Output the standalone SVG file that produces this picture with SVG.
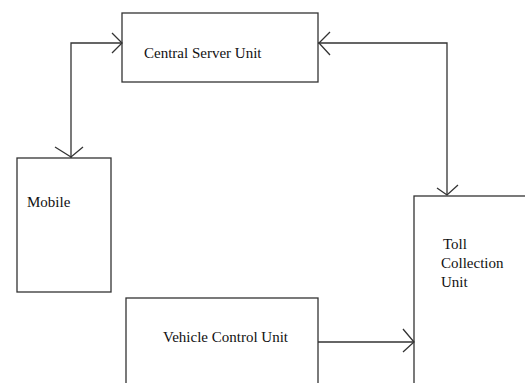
<svg xmlns="http://www.w3.org/2000/svg" width="525" height="383" viewBox="0 0 525 383">
<style>
.box{fill:#fff;stroke:#333;stroke-width:1.3}
.t{font-family:"Liberation Serif","Times New Roman",serif;font-size:15px;fill:#111}
.c{fill:none;stroke:#333;stroke-width:1.3}
</style>
<rect width="525" height="383" fill="#fff"/>
<g id="central"><rect class="box" x="122" y="13" width="196" height="69"/><text class="t" x="144" y="58">Central Server Unit</text></g>
<g id="mobile"><rect class="box" x="17" y="158" width="94" height="134"/><text class="t" x="27" y="207">Mobile</text></g>
<g id="vehicle"><rect class="box" x="126" y="298" width="192" height="100"/><text class="t" x="163" y="342">Vehicle Control Unit</text></g>
<g id="toll"><rect class="box" x="414" y="196" width="130" height="200"/><text class="t" x="443" y="249">Toll</text><text class="t" x="441" y="268">Collection</text><text class="t" x="441" y="287">Unit</text></g>
<g id="connectors">
<path class="c" d="M71 158V43H122"/>
<path class="c" d="M112 33L122 43L112 53"/>
<path class="c" d="M55 147L71 157L83 147"/>
<path class="c" d="M318 43H447V195"/>
<path class="c" d="M330 32L319 43L330 55"/>
<path class="c" d="M437 188L447 195L458 185"/>
<path class="c" d="M318 342H414"/>
<path class="c" d="M403 329L414 342L403 352"/>
</g>
</svg>
